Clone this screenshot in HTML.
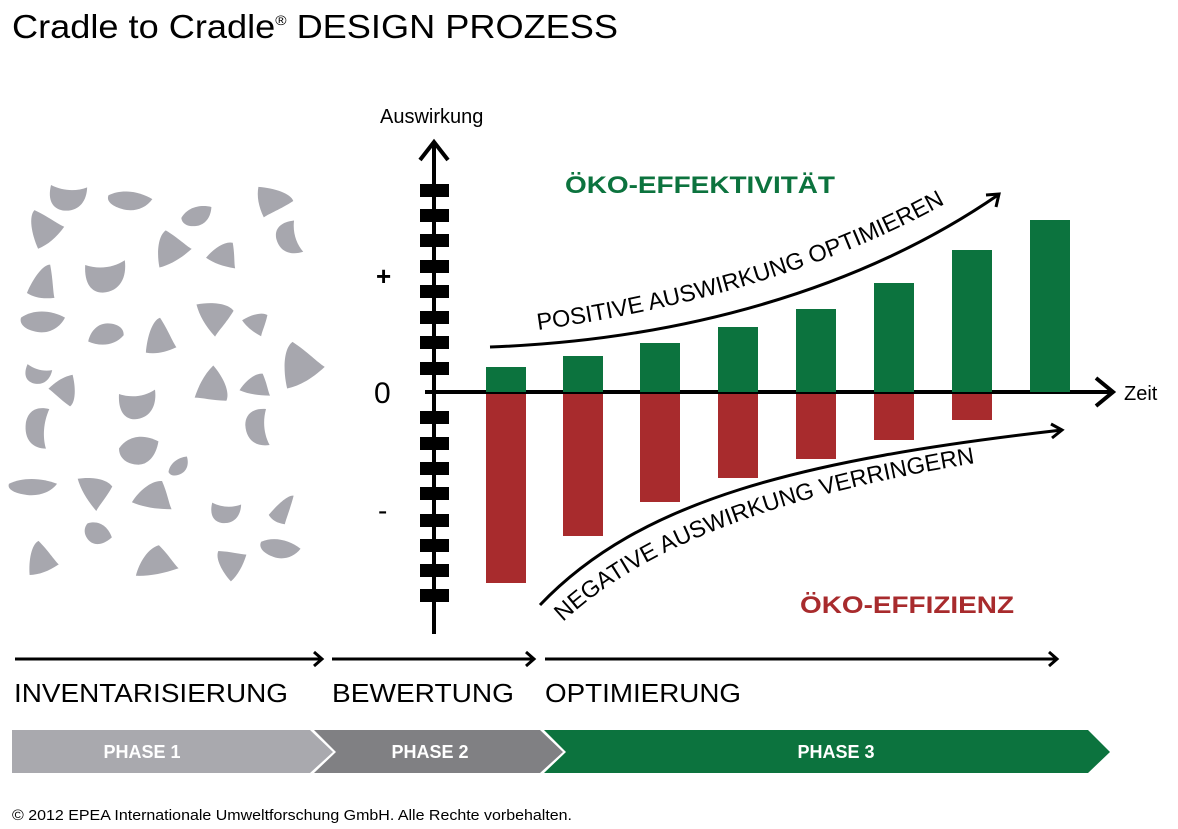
<!DOCTYPE html>
<html><head><meta charset="utf-8"><style>
html,body{margin:0;padding:0;background:#fff;}
svg{display:block;font-family:"Liberation Sans",Arial,sans-serif;}
</style></head><body>
<svg width="1178" height="829" viewBox="0 0 1178 829" xmlns="http://www.w3.org/2000/svg">
<defs>
<path id="bA" d="M-20,-6 C-8,-16 8,-14 20,-6 C15,6 5,12 -5,10 C-15,8 -22,2 -20,-6Z"/>
<path id="bB" d="M-16,-14 C4,-16 18,-4 14,14 C10,2 -2,-4 -16,-14Z"/>
<path id="bC" d="M-14,14 C-10,0 -2,-14 6,-15 C12,-2 14,8 17,14 C5,17 -5,17 -14,14Z"/>
<path id="bD" d="M-18,-10 C-5,-6 8,-8 18,-14 C20,0 14,12 -2,13 C-12,13 -19,6 -18,-10Z"/>
</defs>
<g fill="#a7a7ae">
<use href="#bD" transform="translate(67,198) rotate(10)"/>
<use href="#bA" transform="translate(130,202) rotate(5) scale(1.1,0.8)"/>
<use href="#bA" transform="translate(198,217) rotate(-20) scale(0.8)"/>
<use href="#bC" transform="translate(276,198) rotate(80) scale(1,1.1)"/>
<use href="#bC" transform="translate(40,227) rotate(-40) scale(1.1)"/>
<use href="#bC" transform="translate(167,247) rotate(-30) scale(1.2,1)"/>
<use href="#bC" transform="translate(223,252) rotate(20) scale(1,0.8)"/>
<use href="#bD" transform="translate(288,238) rotate(80) scale(0.9)"/>
<use href="#bC" transform="translate(42,280) rotate(10) scale(0.9,1.1)"/>
<use href="#bD" transform="translate(105,277) rotate(0) scale(1.1,1.2)"/>
<use href="#bC" transform="translate(217,312) rotate(60) scale(1.2,1)"/>
<use href="#bA" transform="translate(43,323) rotate(0) scale(1.1,0.9)"/>
<use href="#bA" transform="translate(105,333) rotate(170) scale(0.9)"/>
<use href="#bC" transform="translate(157,335) rotate(-10) scale(1,1.1)"/>
<use href="#bC" transform="translate(257,320) rotate(40) scale(0.8,0.7)"/>
<use href="#bD" transform="translate(37,375) rotate(20) scale(0.7)"/>
<use href="#bC" transform="translate(68,392) rotate(150) scale(0.9)"/>
<use href="#bC" transform="translate(295,363) rotate(-30) scale(1.4,1.3)"/>
<use href="#bC" transform="translate(217,387) rotate(120) scale(1.2,1)"/>
<use href="#bC" transform="translate(255,383) rotate(10) scale(1,0.7)"/>
<use href="#bD" transform="translate(137,405) rotate(0) scale(1,1.1)"/>
<use href="#bD" transform="translate(37,427) rotate(100) scale(1.1,0.9)"/>
<use href="#bD" transform="translate(257,427) rotate(90) scale(1,0.9)"/>
<use href="#bA" transform="translate(140,452) rotate(-10) scale(1,1.2)"/>
<use href="#bA" transform="translate(180,467) rotate(-40) scale(0.6)"/>
<use href="#bA" transform="translate(33,488) rotate(0) scale(1.2,0.7)"/>
<use href="#bC" transform="translate(97,487) rotate(60) scale(1.2,0.9)"/>
<use href="#bC" transform="translate(152,493) rotate(10) scale(1.3,0.9)"/>
<use href="#bD" transform="translate(225,513) rotate(10) scale(0.8)"/>
<use href="#bC" transform="translate(283,507) rotate(30) scale(0.6,1)"/>
<use href="#bA" transform="translate(97,535) rotate(30) scale(0.7,0.9)"/>
<use href="#bC" transform="translate(38,557) rotate(-20) scale(1)"/>
<use href="#bC" transform="translate(153,560) rotate(-10) scale(1.4,0.9)"/>
<use href="#bC" transform="translate(227,563) rotate(-60) scale(1,0.9)"/>
<use href="#bA" transform="translate(280,550) rotate(10) scale(1,0.8)"/>
</g>
<text x="12" y="38" font-size="33" textLength="606" lengthAdjust="spacingAndGlyphs">Cradle to Cradle<tspan font-size="14" dy="-13">®</tspan><tspan dy="13"> DESIGN PROZESS</tspan></text>
<text x="380" y="123" font-size="20">Auswirkung</text>
<g stroke="#000" stroke-width="4" fill="none">
<line x1="434" y1="142" x2="434" y2="634"/>
<polyline points="420,160 434,142 448,160"/>
<line x1="425" y1="392" x2="1112" y2="392"/>
<polyline points="1096,378 1113,392 1096,406"/>
</g>
<g fill="#000">
<rect x="420" y="184" width="29" height="13"/><rect x="420" y="209" width="29" height="13"/><rect x="420" y="234" width="29" height="13"/><rect x="420" y="260" width="29" height="13"/><rect x="420" y="285" width="29" height="13"/><rect x="420" y="311" width="29" height="13"/><rect x="420" y="336" width="29" height="13"/><rect x="420" y="362" width="29" height="13"/>
<rect x="420" y="411" width="29" height="13"/><rect x="420" y="437" width="29" height="13"/><rect x="420" y="462" width="29" height="13"/><rect x="420" y="487" width="29" height="13"/><rect x="420" y="514" width="29" height="13"/><rect x="420" y="539" width="29" height="13"/><rect x="420" y="564" width="29" height="13"/><rect x="420" y="589" width="29" height="13"/>
</g>
<text x="376" y="285" font-size="26" font-weight="bold">+</text>
<text x="374" y="403" font-size="30">0</text>
<text x="378" y="520" font-size="28">-</text>
<text x="1124" y="400" font-size="20">Zeit</text>
<g fill="#0c733e">
<rect x="486" y="367" width="40" height="25"/><rect x="563" y="356" width="40" height="36"/><rect x="640" y="343" width="40" height="49"/><rect x="718" y="327" width="40" height="65"/><rect x="796" y="309" width="40" height="83"/><rect x="874" y="283" width="40" height="109"/><rect x="952" y="250" width="40" height="142"/><rect x="1030" y="220" width="40" height="172"/>
</g>
<g fill="#a82b2d">
<rect x="486" y="394" width="40" height="189"/><rect x="563" y="394" width="40" height="142"/><rect x="640" y="394" width="40" height="108"/><rect x="718" y="394" width="40" height="84"/><rect x="796" y="394" width="40" height="65"/><rect x="874" y="394" width="40" height="46"/><rect x="952" y="394" width="40" height="26"/>
</g>
<text x="565" y="193" font-size="24" font-weight="bold" fill="#0c733e" textLength="270" lengthAdjust="spacingAndGlyphs">ÖKO-EFFEKTIVITÄT</text>
<text x="800" y="613" font-size="24" font-weight="bold" fill="#a82b2d" textLength="214" lengthAdjust="spacingAndGlyphs">ÖKO-EFFIZIENZ</text>
<g stroke="#000" stroke-width="3" fill="none">
<path d="M490,347 C680,340 860,290 998,195"/>
<polyline points="986,195 999,194 996,207"/>
<path d="M540,605 C640,500 800,460 1062,430"/>
<polyline points="1051,424 1062,430 1052,438"/>
</g>
<path id="tp1" d="M538,330 C680,310 830,270 955,198" fill="none"/>
<path id="tp2" d="M563,622 C650,540 800,490 995,460" fill="none"/>
<text font-size="23.5"><textPath href="#tp1">POSITIVE AUSWIRKUNG OPTIMIEREN</textPath></text>
<text font-size="23.5"><textPath href="#tp2">NEGATIVE AUSWIRKUNG VERRINGERN</textPath></text>
<g stroke="#000" stroke-width="3" fill="none">
<line x1="15" y1="659" x2="320" y2="659"/><polyline points="314,652 322,659 314,666"/>
<line x1="332" y1="659" x2="532" y2="659"/><polyline points="526,652 534,659 526,666"/>
<line x1="545" y1="659" x2="1055" y2="659"/><polyline points="1049,652 1057,659 1049,666"/>
</g>
<text x="14" y="702" font-size="26" textLength="274" lengthAdjust="spacingAndGlyphs">INVENTARISIERUNG</text>
<text x="332" y="702" font-size="26" textLength="182" lengthAdjust="spacingAndGlyphs">BEWERTUNG</text>
<text x="545" y="702" font-size="26" textLength="196" lengthAdjust="spacingAndGlyphs">OPTIMIERUNG</text>
<polygon points="12,730 310,730 333,752 310,773 12,773" fill="#a9a9ae"/>
<polygon points="314,730 540,730 563,752 540,773 314,773 336,752" fill="#808083"/>
<polygon points="544,730 1088,730 1110,752 1088,773 544,773 566,752" fill="#0c733e"/>
<g fill="#fff" font-size="18" font-weight="bold" text-anchor="middle">
<text x="142" y="758">PHASE 1</text>
<text x="430" y="758">PHASE 2</text>
<text x="836" y="758">PHASE 3</text>
</g>
<text x="12" y="820" font-size="14.5" textLength="560" lengthAdjust="spacingAndGlyphs">© 2012 EPEA Internationale Umweltforschung GmbH. Alle Rechte vorbehalten.</text>
</svg>
</body></html>
